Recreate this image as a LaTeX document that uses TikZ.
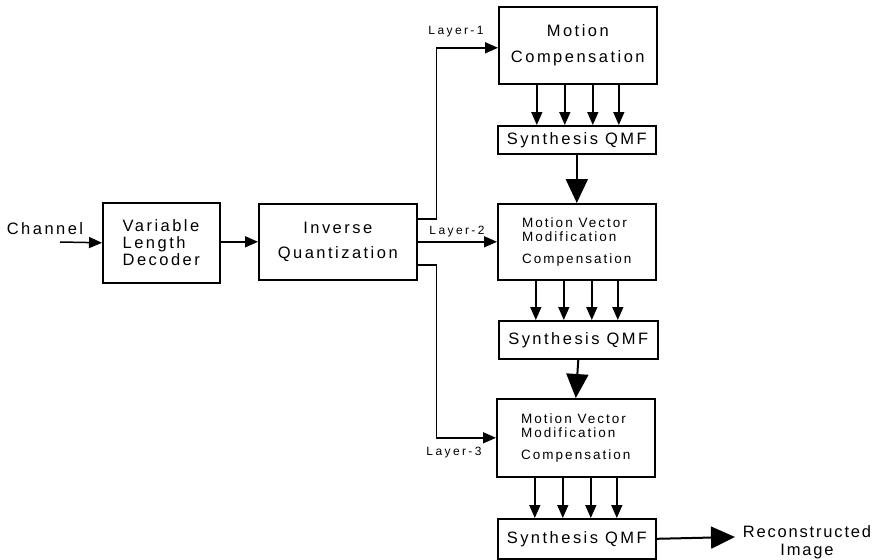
\documentclass[tikz,border=0pt]{standalone}
\usepackage{fontspec}
\usetikzlibrary{arrows.meta}
\newfontfamily\mainf[LetterSpace=15]{Liberation Sans}
\newfontfamily\recf[LetterSpace=11]{Liberation Sans}
\newfontfamily\layerf[LetterSpace=20]{Liberation Sans}
\tikzset{
  box/.style={draw, line width=1.6pt, anchor=north west, inner sep=0pt, font=\mainf\fontsize{16.5}{16.5}\selectfont},
  mvbox/.style={box, font=\mainf\fontsize{13.5}{14}\selectfont},
  tarr/.style={line width=1.5pt, -{Triangle[length=13pt,width=11pt]}},
  barr/.style={line width=2pt, -{Triangle[length=24pt,width=22pt]}},
  lbl/.style={font=\mainf\fontsize{16.5}{16.5}\selectfont, inner sep=0pt},
  layer/.style={font=\layerf\fontsize{12}{12}\selectfont, inner sep=0pt}
}
\begin{document}
\begin{tikzpicture}[x=1pt,y=-1pt]
\useasboundingbox (0,0) rectangle (874,559);
% boxes
\node[box, minimum width=117pt, minimum height=80pt, align=left] (vld) at (102,202)
  {Variable\\[0.5pt]Length\\[0.5pt]Decoder};
\node[box, minimum width=158pt, minimum height=76pt, align=center] (iq) at (258,203)
  {Inverse\\[9pt]Quantization};
\node[box, minimum width=158pt, minimum height=77pt, align=center] (mc) at (498,6)
  {Motion\\[10pt]Compensation};
\node[box, minimum width=158pt, minimum height=28pt] (s1) at (497,125) {Synthesis QMF};
\node[mvbox, minimum width=158pt, minimum height=76pt, align=left] (mv1) at (497,203)
  {Motion Vector\\Modification\\[8pt]Compensation};
\node[box, minimum width=159pt, minimum height=38pt] (s2) at (498,320) {Synthesis QMF};
\node[mvbox, minimum width=158pt, minimum height=78pt, align=left] (mv2) at (496,398)
  {Motion Vector\\Modification\\[8pt]Compensation};
\node[box, minimum width=158pt, minimum height=40pt] (s3) at (497,518) {Synthesis QMF};
% labels
\node[lbl] (chl) at (45,229) {Channel};
\node[layer] (l1) at (456,32) {Layer-1};
\node[layer] (l2) at (457,232) {Layer-2};
\node[layer] (l3) at (454,453) {Layer-3};
\node[lbl, font=\recf\fontsize{16.5}{16.5}\selectfont, align=center] (rec) at (807,542) {Reconstructed\\[2pt]Image};
% connectors
\coordinate (cin) at (60,242);
\draw[tarr] (cin) -- (vld.west);
\draw[tarr] (vld.east |- iq.west) -- (iq.west);
\draw[tarr] ([yshift=23pt]iq.east) -- ++(19,0) |- ([yshift=-2.5pt]mc.west);
\draw[tarr] (iq.east) -- (mv1.west);
\draw[tarr] ([yshift=-23pt]iq.east) -- ++(19,0) |- (mv2.west);
\foreach \dx in {-41,-13,15,41} {
  \draw[tarr] ([xshift=\dx pt]mc.south) -- ([xshift=\dx pt]mc.south |- s1.north);
  \draw[tarr] ([xshift=\dx pt]mv1.south) -- ([xshift=\dx pt]mv1.south |- s2.north);
  \draw[tarr] ([xshift=\dx pt]mv2.south) -- ([xshift=\dx pt]mv2.south |- s3.north);
}
\draw[barr] (s1.south) -- (mv1.north);
\draw[barr] (s2.south) -- (mv2.north);
\coordinate (out) at (735,537);
\draw[barr] (s3.east) -- (out);
\end{tikzpicture}
\end{document}
